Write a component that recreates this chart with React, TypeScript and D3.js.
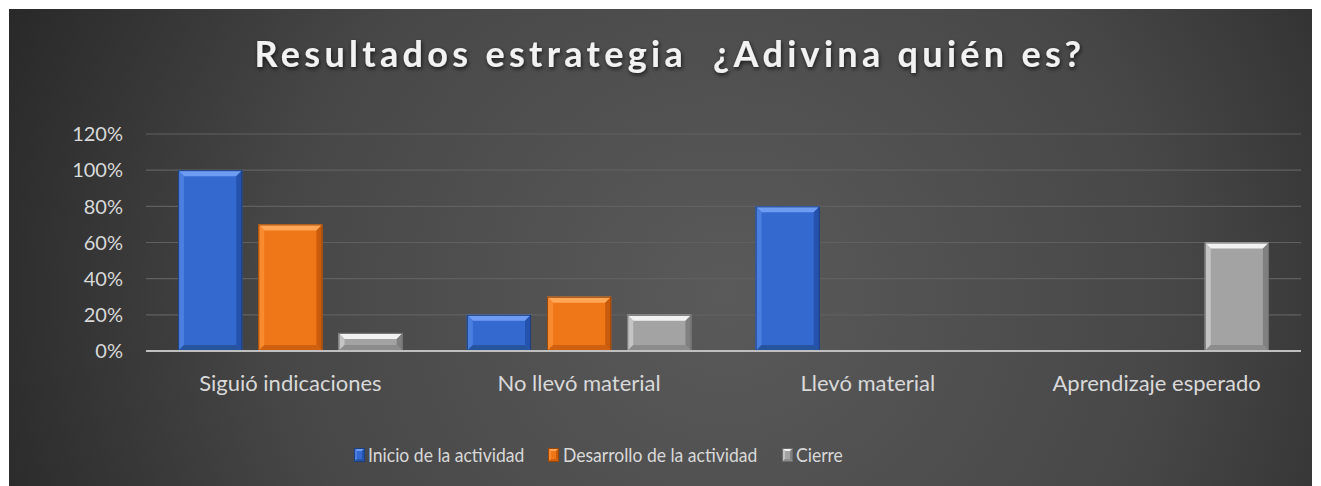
import React from "react";
import * as d3 from "d3";

const categories = ["Siguió indicaciones", "No llevó material", "Llevó material", "Aprendizaje esperado"];
const seriesNames = ["Inicio de la actividad", "Desarrollo de la actividad", "Cierre"];
const inicio = [1.0, 0.2, 0.8, 0];
const desarrollo = [0.7, 0.3, 0, 0];
const cierre = [0.1, 0.2, 0, 0.6];
const yTicks = [0, 0.2, 0.4, 0.6, 0.8, 1.0, 1.2];
const title = "Resultados estrategia  ¿Adivina quién es?";

const seriesValues = [inicio, desarrollo, cierre];
const palettes = [
  { main: "#346ad0", top: "#6e9cf2", left: "#4a7fe0", right: "#2452ad", bottom: "#27549f", edge: "#1d3f7e" },
  { main: "#ef7718", top: "#ffa657", left: "#f88a30", right: "#c95c0c", bottom: "#cf600f", edge: "#9b4707" },
  { main: "#a3a3a3", top: "#f2f2f2", left: "#c4c4c4", right: "#808080", bottom: "#8c8c8c", edge: "#6e6e6e" },
];

const W = 1321, H = 486;
const plotL = 146, plotR = 1301, plotT = 134, plotB = 351;

function Bar({ x, y, w, h, p, bev }: any) {
  if (h <= 0.5) return null;
  const b = Math.min(bev, h / 2, w / 2);
  const x2 = x + w, y2 = y + h;
  return (
    <g>
      <rect x={x} y={y} width={w} height={h} fill={p.main} />
      <polygon points={`${x},${y} ${x2},${y} ${x2 - b},${y + b} ${x + b},${y + b}`} fill={p.top} />
      <polygon points={`${x},${y} ${x + b},${y + b} ${x + b},${y2 - b} ${x},${y2}`} fill={p.left} />
      <polygon points={`${x2},${y} ${x2},${y2} ${x2 - b},${y2 - b} ${x2 - b},${y + b}`} fill={p.right} />
      <polygon points={`${x},${y2} ${x + b},${y2 - b} ${x2 - b},${y2 - b} ${x2},${y2}`} fill={p.bottom} />
      <rect x={x + 0.5} y={y + 0.5} width={w - 1} height={h - 1} fill="none" stroke={p.edge} strokeWidth={1} />
    </g>
  );
}

export default function App() {
  const x0 = d3.scaleBand<string>().domain(categories).range([plotL, plotR]).paddingInner(0).paddingOuter(0);
  const bw = x0.bandwidth();
  const w = bw / 4.5;
  const x1 = d3.scaleBand<string>().domain(seriesNames).range([w * 0.5, bw - w * 0.5]).paddingInner(0.2).paddingOuter(0);
  const y = d3.scaleLinear().domain([0, 1.2]).range([plotB, plotT]);
  const fmt = d3.format(".0%");
  const font = "Lato, 'Open Sans', sans-serif";

  const legendItems = [
    { name: seriesNames[0], mx: 354, tx: 368 },
    { name: seriesNames[1], mx: 548, tx: 563 },
    { name: seriesNames[2], mx: 782, tx: 796 },
  ];

  return (
    <svg width={W} height={H} style={{ position: "absolute", left: 0, top: 0 }} xmlns="http://www.w3.org/2000/svg">
      <defs>
        <radialGradient id="bg" cx="0.55" cy="0.6" r="0.62" gradientUnits="objectBoundingBox" gradientTransform="translate(0.55,0.6) scale(1,2.6) translate(-0.55,-0.6)">
          <stop offset="0" stopColor="#5a5a5a" />
          <stop offset="0.55" stopColor="#474747" />
          <stop offset="1" stopColor="#262626" />
        </radialGradient>
        <filter id="shadow" x="-5%" y="-30%" width="110%" height="160%">
          <feDropShadow dx="1" dy="2" stdDeviation="2" floodColor="#000" floodOpacity="0.7" />
        </filter>
      </defs>
      <rect x={0} y={0} width={W} height={H} fill="#ffffff" />
      <rect x={9} y={9} width={1303} height={477} fill="url(#bg)" />
      <text x={670} y={67} textAnchor="middle" fontFamily={font} fontWeight={700} fontSize={36} letterSpacing={4.3} fill="#f2f2f2" filter="url(#shadow)" style={{ whiteSpace: "pre" }}>
        {title}
      </text>
      {yTicks.map((t) => (
        <g key={t}>
          {t > 0 && <line x1={plotL} x2={plotR} y1={y(t)} y2={y(t)} stroke="#606060" strokeWidth={1.2} />}
          <text x={123} y={y(t)} dy="0.36em" textAnchor="end" fontFamily={font} fontSize={20} fill="#d9d9d9">
            {fmt(t)}
          </text>
        </g>
      ))}
      {categories.map((c, ci) => (
        <g key={c}>
          {seriesNames.map((s, si) => {
            const v = seriesValues[si][ci];
            const bx = (x0(c) as number) + (x1(s) as number);
            const by = y(v);
            return <Bar key={s} x={bx} y={by} w={x1.bandwidth()} h={plotB - by} p={palettes[si]} bev={6} />;
          })}
          <text x={(x0(c) as number) + bw / 2} y={383} dy="0.36em" textAnchor="middle" fontFamily={font} fontSize={22} fill="#d9d9d9">
            {c}
          </text>
        </g>
      ))}
      <line x1={plotL} x2={plotR} y1={plotB} y2={plotB} stroke="#bfbfbf" strokeWidth={2} />
      {legendItems.map((it, i) => (
        <g key={it.name}>
          <Bar x={it.mx} y={448} w={11} h={14} p={palettes[i]} bev={3} />
          <text transform={`translate(${it.tx},455) scale(0.9,1)`} dy="0.36em" fontFamily={font} fontSize={19.5} fill="#d9d9d9">
            {it.name}
          </text>
        </g>
      ))}
    </svg>
  );
}
